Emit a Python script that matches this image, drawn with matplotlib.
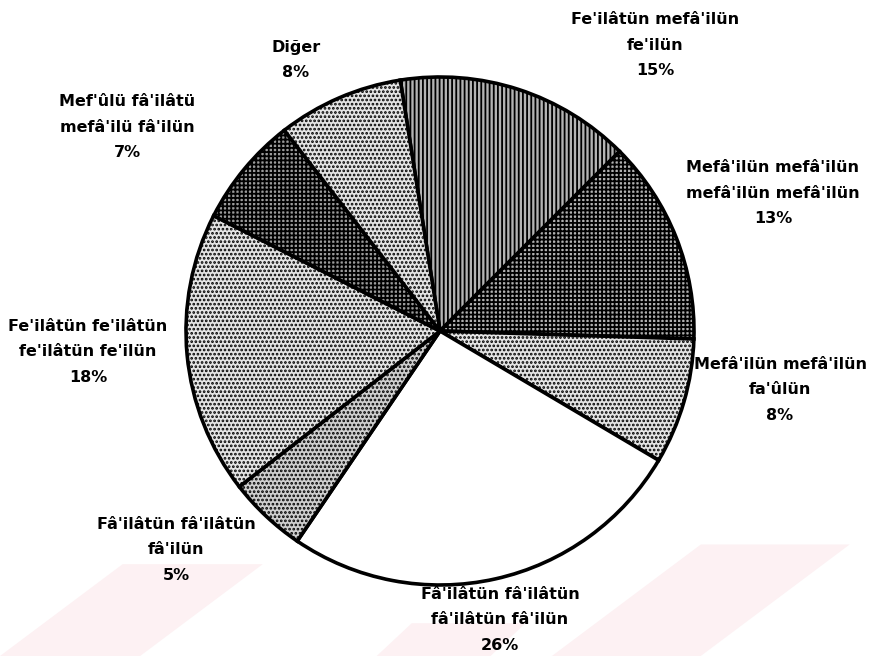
import matplotlib
matplotlib.use('Agg')
import matplotlib.pyplot as plt
from matplotlib.patches import Polygon
import numpy as np

# ---- data ----
categories = [
    "Fe'ilâtün mefâ'ilün\nfe'ilün",
    "Mefâ'ilün mefâ'ilün\nmefâ'ilün mefâ'ilün",
    "Mefâ'ilün mefâ'ilün\nfa'ûlün",
    "Fâ'ilâtün fâ'ilâtün\nfâ'ilâtün fâ'ilün",
    "Fâ'ilâtün fâ'ilâtün\nfâ'ilün",
    "Fe'ilâtün fe'ilâtün\nfe'ilâtün fe'ilün",
    "Mef'ûlü fâ'ilâtü\nmefâ'ilü fâ'ilün",
    "Diğer",
]
values = [15, 13, 8, 26, 5, 18, 7, 8]

# ---- styles / layout ----
face_colors = ['#b4b4b4', '#b0b0b0', '#e4e4e4', 'white', '#cfcfcf', '#e4e4e4', '#9a9a9a', '#e4e4e4']
hatches = ['||||', '++++', '....', '', '....', '....', '++++', '....']
# label block centres in pixel coordinates (x from left, y from top)
label_px = [(655, 45), (773, 193), (780, 390), (500, 620),
            (176, 550), (88, 352), (127, 127), (296, 60)]

W, H = 876, 656
cx, cy, R = 440, 331, 254

plt.rcParams['hatch.linewidth'] = 1.3
fig = plt.figure(figsize=(W / 100, H / 100), dpi=100)

ax = fig.add_axes([0, 0, 1, 1], zorder=2)
ax.patch.set_alpha(0)

# faint watermark bands (background decoration)
bg = fig.add_axes([0, 0, 1, 1], zorder=0)
bg.set_xlim(0, 1)
bg.set_ylim(0, 1)
bg.axis('off')
for pts in [[(0, 0), (0.16, 0), (0.30, 0.14), (0.14, 0.14)],
            [(0.63, 0), (0.80, 0), (0.97, 0.17), (0.80, 0.17)],
            [(0.43, 0), (0.56, 0), (0.60, 0.05), (0.47, 0.05)]]:
    bg.add_patch(Polygon(pts, closed=True, facecolor='#fdf1f3', edgecolor='none'))

wedges, _ = ax.pie(values, startangle=99, counterclock=False, radius=1,
                   center=(0, 0), colors=face_colors,
                   wedgeprops=dict(edgecolor='black', linewidth=2.6))
for w, h in zip(wedges, hatches):
    w.set_hatch(h)

ax.set_xlim(-cx / R, (W - cx) / R)
ax.set_ylim(-(H - cy) / R, cy / R)
ax.set_aspect('equal')
ax.axis('off')

for cat, v, (px, py) in zip(categories, values, label_px):
    x = (px - cx) / R
    y = (cy - py) / R
    ax.text(x, y, f"{cat}\n{v}%", ha='center', va='center', multialignment='center',
            fontsize=11.5, fontweight='bold', family=['DejaVu Sans'], linespacing=1.85,
            color='black')

fig.savefig('out.png', dpi=100)
